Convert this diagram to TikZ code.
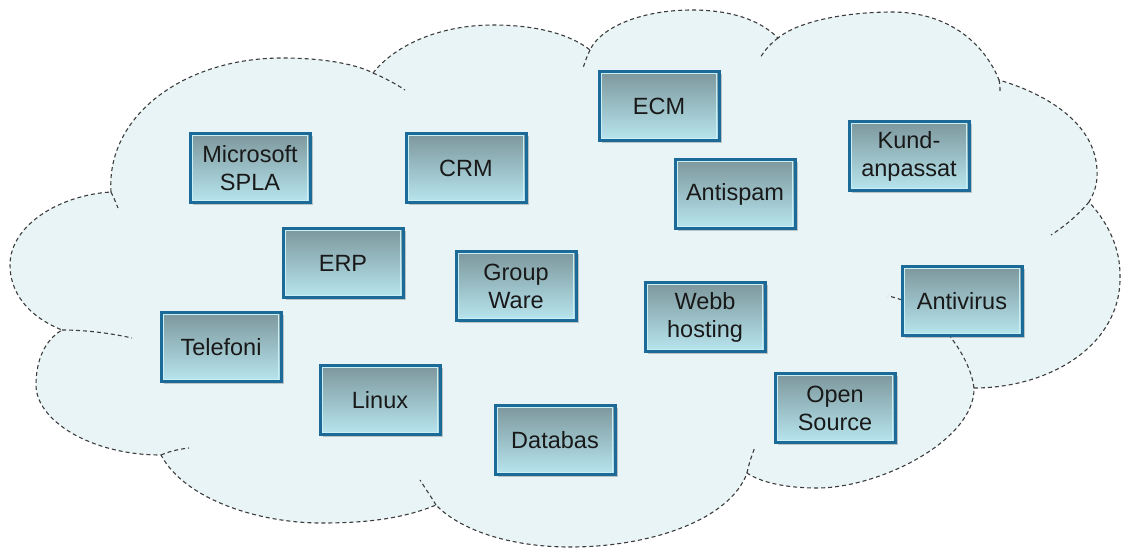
\documentclass[tikz,border=0pt]{standalone}
\usepackage{fontspec}
\setmainfont{Liberation Sans}
\usetikzlibrary{shadows}
\definecolor{cloudfill}{HTML}{E8F4F6}
\definecolor{cloudline}{HTML}{3C3C3C}
\definecolor{boxline}{HTML}{1C6A98}
\definecolor{boxtop}{HTML}{7C979C}
\definecolor{boxbot}{HTML}{B8E6EF}
\definecolor{boxinner}{HTML}{C8EEF6}
\begin{document}
\begin{tikzpicture}[x=1pt,y=-1pt,
  cloudedge/.style={draw=cloudline, line width=1.1pt, dash pattern=on 4pt off 3pt},
  svc/.style={draw=boxline, line width=3pt, top color=boxtop, bottom color=boxbot,
    minimum width=120pt, minimum height=69pt, align=center,
    font=\fontsize{23.5}{28}\selectfont, text=black!90, inner sep=0pt,
    drop shadow={shadow xshift=2.5pt, shadow yshift=-2.5pt, opacity=0.35, fill=black!60},
    path picture={\draw[boxinner, line width=1.2pt]
      ([shift={(2.2pt,2.2pt)}]path picture bounding box.south west) rectangle
      ([shift={(-2.2pt,-2.2pt)}]path picture bounding box.north east);}}
]
\useasboundingbox (0,0) rectangle (1123,550);
% cloud body
\path[fill=cloudfill, cloudedge] (111,192) .. controls (106,115) and (185,58) .. (282,58)
 .. controls (330,58) and (360,66) .. (373,73)
 .. controls (395,45) and (440,25) .. (493,25)
 .. controls (545,25) and (575,38) .. (590,50)
 .. controls (600,28) and (640,10) .. (692,10)
 .. controls (740,10) and (765,25) .. (778,38)
 .. controls (800,20) and (850,12) .. (892,12)
 .. controls (950,12) and (985,45) .. (999,80)
 .. controls (1050,95) and (1095,125) .. (1097,170)
 .. controls (1098,185) and (1093,195) .. (1089,202)
 .. controls (1110,225) and (1120,250) .. (1120,275)
 .. controls (1122,345) and (1050,388) .. (974,388)
 .. controls (975,440) and (880,488) .. (817,488)
 .. controls (785,488) and (760,482) .. (747,473)
 .. controls (730,520) and (650,547) .. (570,547)
 .. controls (510,547) and (460,530) .. (436,505)
 .. controls (400,520) and (360,523) .. (321,523)
 .. controls (260,523) and (185,500) .. (161,455)
 .. controls (90,455) and (36,420) .. (36,385)
 .. controls (36,360) and (45,340) .. (62,330)
 .. controls (25,315) and (10,290) .. (10,265)
 .. controls (10,225) and (60,195) .. (111,192) -- cycle;
% inner tails of the cloud lobes
\draw[cloudedge] (111,192) .. controls (114,198) and (116,203) .. (118,208);
\draw[cloudedge] (373,73) .. controls (385,78) and (396,84) .. (405,90);
\draw[cloudedge] (590,50) .. controls (587,56) and (585,62) .. (583,68);
\draw[cloudedge] (778,38) .. controls (770,44) and (765,50) .. (760,58);
\draw[cloudedge] (999,80) .. controls (1000,84) and (1000,88) .. (1000,92);
\draw[cloudedge] (1089,202) .. controls (1078,215) and (1065,226) .. (1051,235);
\draw[cloudedge] (974,388) .. controls (970,355) and (935,305) .. (888,296);
\draw[cloudedge] (747,473) .. controls (749,463) and (752,455) .. (755,447);
\draw[cloudedge] (436,505) .. controls (430,495) and (425,488) .. (420,480);
\draw[cloudedge] (161,455) .. controls (170,451) and (180,449) .. (189,448);
\draw[cloudedge] (62,330) .. controls (85,330) and (110,333) .. (132,338);
% service boxes
\node[svc] (ms) at (250,168) {Microsoft\\SPLA};
\node[svc] (crm) at (466,168) {CRM};
\node[svc] (ecm) at (659,106) {ECM};
\node[svc] (antispam) at (735,194) {Antispam};
\node[svc] (kund) at (909,156) {Kund-\\anpassat};
\node[svc] (erp) at (343,263) {ERP};
\node[svc] (group) at (516,286) {Group\\Ware};
\node[svc] (webb) at (705,317) {Webb\\hosting};
\node[svc] (antivirus) at (962,301) {Antivirus};
\node[svc] (telefoni) at (221,347) {Telefoni};
\node[svc] (linux) at (380,400) {Linux};
\node[svc] (databas) at (555,440) {Databas};
\node[svc] (open) at (835,408) {Open\\Source};
\end{tikzpicture}
\end{document}
